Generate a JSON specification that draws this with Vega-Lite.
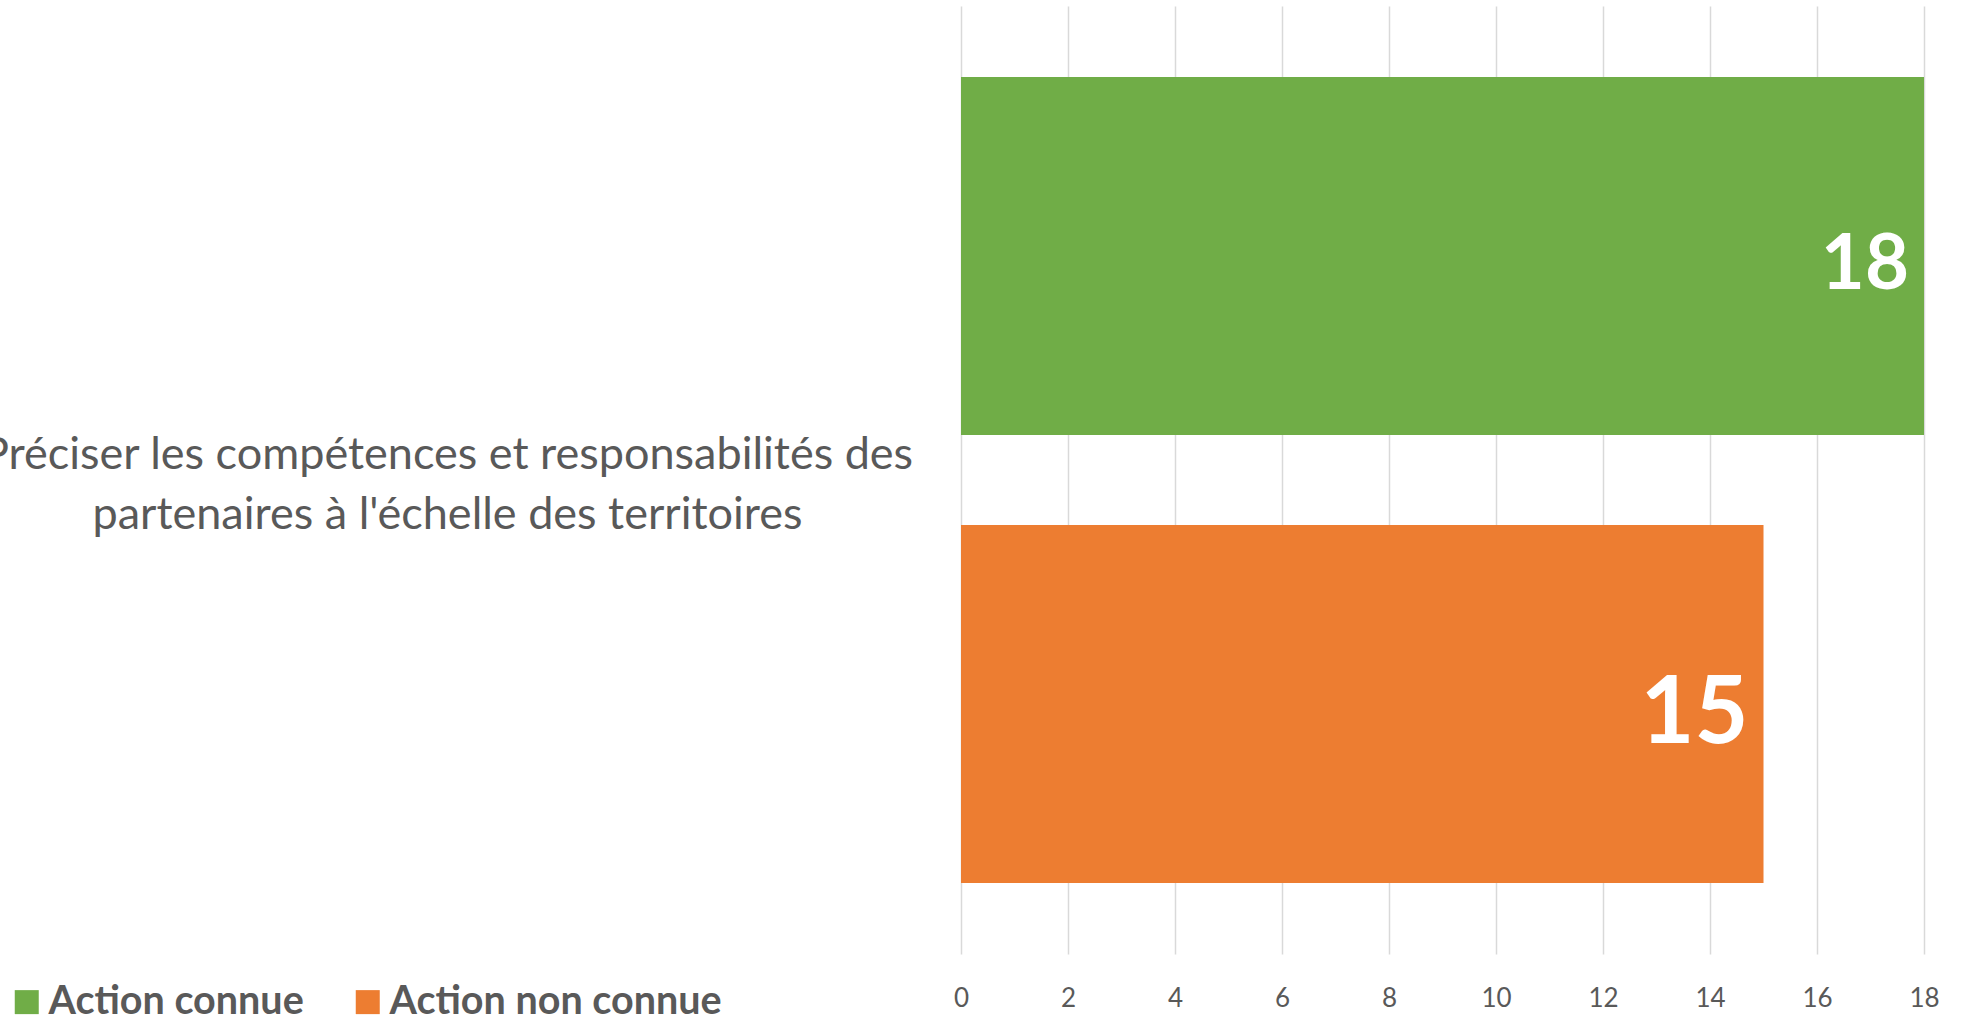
{
  "$schema": "https://vega.github.io/schema/vega-lite/v6.json",
  "width": 963,
  "height": 948,
  "autosize": {"type": "none"},
  "padding": {"left": 961, "top": 6, "right": 41, "bottom": 63},
  "background": "white",
  "config": {"view": {"stroke": null}, "font": "Lato"},
  "data": {
    "values": [
      {"action": "Préciser les compétences  et responsabilités des\npartenaires à l'échelle des territoires", "serie": "Action connue", "valeur": 18},
      {"action": "Préciser les compétences  et responsabilités des\npartenaires à l'échelle des territoires", "serie": "Action non connue", "valeur": 15}
    ]
  },
  "encoding": {
    "y": {
      "field": "action",
      "type": "nominal",
      "title": null,
      "scale": {"paddingInner": 0, "paddingOuter": 0},
      "axis": {
        "domain": false,
        "ticks": false,
        "grid": false,
        "labelExpr": "split(datum.value, '\\n')",
        "labelAlign": "center",
        "labelBaseline": "middle",
        "labelPadding": 514,
        "labelFont": "Lato",
        "labelFontSize": 45,
        "labelLineHeight": 60,
        "labelColor": "#595959",
        "labelLimit": 2000,
        "labelOffset": -25
      }
    },
    "yOffset": {
      "field": "serie",
      "type": "nominal",
      "sort": ["Action connue", "Action non connue"],
      "scale": {"paddingInner": 0.2009, "paddingOuter": 0.1585}
    },
    "x": {
      "field": "valeur",
      "type": "quantitative",
      "title": null,
      "scale": {"domain": [0, 18], "nice": false},
      "axis": {
        "values": [0, 2, 4, 6, 8, 10, 12, 14, 16, 18],
        "domain": false,
        "ticks": false,
        "grid": true,
        "gridColor": "#d9d9d9",
        "gridWidth": 1.5,
        "labelFont": "Lato",
        "labelFontSize": 26,
        "labelColor": "#595959",
        "labelPadding": 31,
        "labelFlush": false
      }
    }
  },
  "layer": [
    {
      "mark": {"type": "bar"},
      "encoding": {
        "color": {
          "field": "serie",
          "type": "nominal",
          "scale": {"domain": ["Action connue", "Action non connue"], "range": ["#70AD47", "#ED7D31"]},
          "legend": {
            "title": null,
            "orient": "none",
            "legendX": -954,
            "legendY": 976,
            "direction": "horizontal",
            "padding": 0,
            "symbolType": "square",
            "symbolSize": 576,
            "symbolStrokeWidth": 0,
            "symbolOpacity": 1,
            "labelFont": "Lato",
            "labelFontSize": 39.5,
            "labelFontWeight": "bold",
            "labelColor": "#595959",
            "labelLimit": 600,
            "labelOffset": 2,
            "columnPadding": 44
          }
        }
      }
    },
    {
      "transform": [{"filter": "datum.serie === 'Action connue'"}],
      "mark": {"type": "text", "align": "right", "baseline": "middle", "dx": -15, "dy": 10, "fontSize": 76, "fontWeight": "bold", "color": "white", "font": "Lato"},
      "encoding": {
        "text": {"field": "valeur", "type": "quantitative"}
      }
    },
    {
      "transform": [{"filter": "datum.serie === 'Action non connue'"}],
      "mark": {"type": "text", "align": "right", "baseline": "middle", "dx": -15, "dy": 11, "fontSize": 93, "fontWeight": "bold", "color": "white", "font": "Lato"},
      "encoding": {
        "text": {"field": "valeur", "type": "quantitative"}
      }
    }
  ]
}
